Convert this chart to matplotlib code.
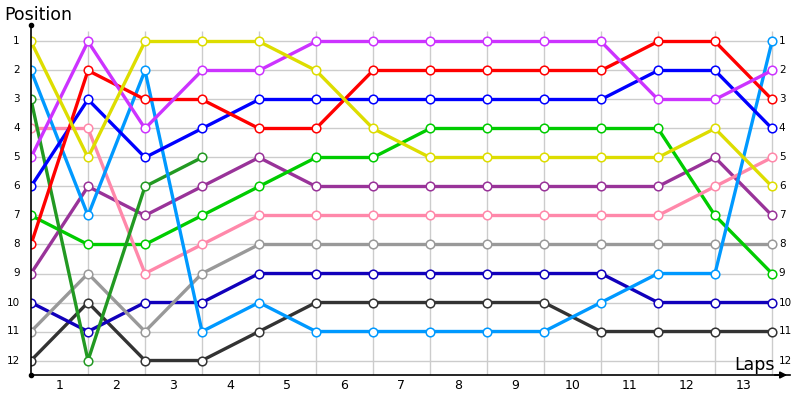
import matplotlib
matplotlib.use('Agg')
import matplotlib.pyplot as plt
import numpy as np

# lap boundaries 0..13, position of each driver after each lap
laps = list(range(14))
lap_labels = [str(i) for i in range(1, 14)]
positions = list(range(1, 13))

yellow = [1, 5, 1, 1, 1, 2, 4, 5, 5, 5, 5, 5, 4, 6]
magenta = [5, 1, 4, 2, 2, 1, 1, 1, 1, 1, 1, 3, 3, 2]
red = [8, 2, 3, 3, 4, 4, 2, 2, 2, 2, 2, 1, 1, 3]
blue = [6, 3, 5, 4, 3, 3, 3, 3, 3, 3, 3, 2, 2, 4]
light_blue = [2, 7, 2, 11, 10, 11, 11, 11, 11, 11, 10, 9, 9, 1]
dark_green = [3, 12, 6, 5]
pink = [4, 4, 9, 8, 7, 7, 7, 7, 7, 7, 7, 7, 6, 5]
green = [7, 8, 8, 7, 6, 5, 5, 4, 4, 4, 4, 4, 7, 9]
purple = [9, 6, 7, 6, 5, 6, 6, 6, 6, 6, 6, 6, 5, 7]
gray = [11, 9, 11, 9, 8, 8, 8, 8, 8, 8, 8, 8, 8, 8]
navy = [10, 11, 10, 10, 9, 9, 9, 9, 9, 9, 9, 10, 10, 10]
dark_gray = [12, 10, 12, 12, 11, 10, 10, 10, 10, 10, 11, 11, 11, 11]

series = [
    (dark_gray, '#333333'),
    (navy, '#1100bb'),
    (gray, '#999999'),
    (purple, '#993399'),
    (green, '#00cc00'),
    (pink, '#ff88aa'),
    (dark_green, '#229922'),
    (light_blue, '#0099ff'),
    (blue, '#0000ff'),
    (red, '#ff0000'),
    (magenta, '#cc33ff'),
    (yellow, '#dddd00'),
]

fig = plt.figure(figsize=(8, 4), dpi=100)
ax = fig.add_axes([31 / 800, 25 / 400, 759 / 800, 350 / 400])
ax.set_xlim(0, 759 / 57)
ax.set_ylim(12.5, 12.5 - 350 / 29)

# grid
ax.hlines(positions, 0, laps[-1], color='#cccccc', lw=1, zorder=0)
ax.vlines(laps[1:], 0.65, 12.5, color='#cccccc', lw=1, zorder=0)

for vals, col in series:
    ax.plot(laps[:len(vals)], vals, color=col, lw=2.4, zorder=2,
            marker='o', ms=6.2, mfc='white', mec=col, mew=1.1)

for s in ['top', 'right']:
    ax.spines[s].set_visible(False)
ax.spines['left'].set_linewidth(1.2)
ax.spines['bottom'].set_linewidth(1.2)
ax.set_xticks([])
ax.set_yticks([])

# axis ends
ax.plot([0], [12.5 - 350 / 29], 'ko', ms=3, clip_on=False)
ax.plot([0], [12.5], 'ko', ms=3, clip_on=False)
ax.annotate('', xy=(759 / 57, 12.5), xytext=(13.0, 12.5),
            arrowprops=dict(arrowstyle='-|>', color='black', lw=1.2,
                            mutation_scale=10),
            annotation_clip=False)

# tick labels
for p in positions:
    ax.text(-0.2, p, str(p), ha='right', va='center', fontsize=7.5)
    ax.text(laps[-1] + 0.12, p, str(p), ha='left', va='center', fontsize=7.5)
for i, lab in enumerate(lap_labels):
    ax.text(i + 0.5, 12.85, lab, ha='center', va='center', fontsize=9)

fig.text(4 / 800, 1 - 15 / 400, 'Position', ha='left', va='center', fontsize=12.5)
fig.text(775 / 800, 1 - 365 / 400, 'Laps', ha='right', va='center', fontsize=12.5)

fig.savefig('out.png', dpi=100)
